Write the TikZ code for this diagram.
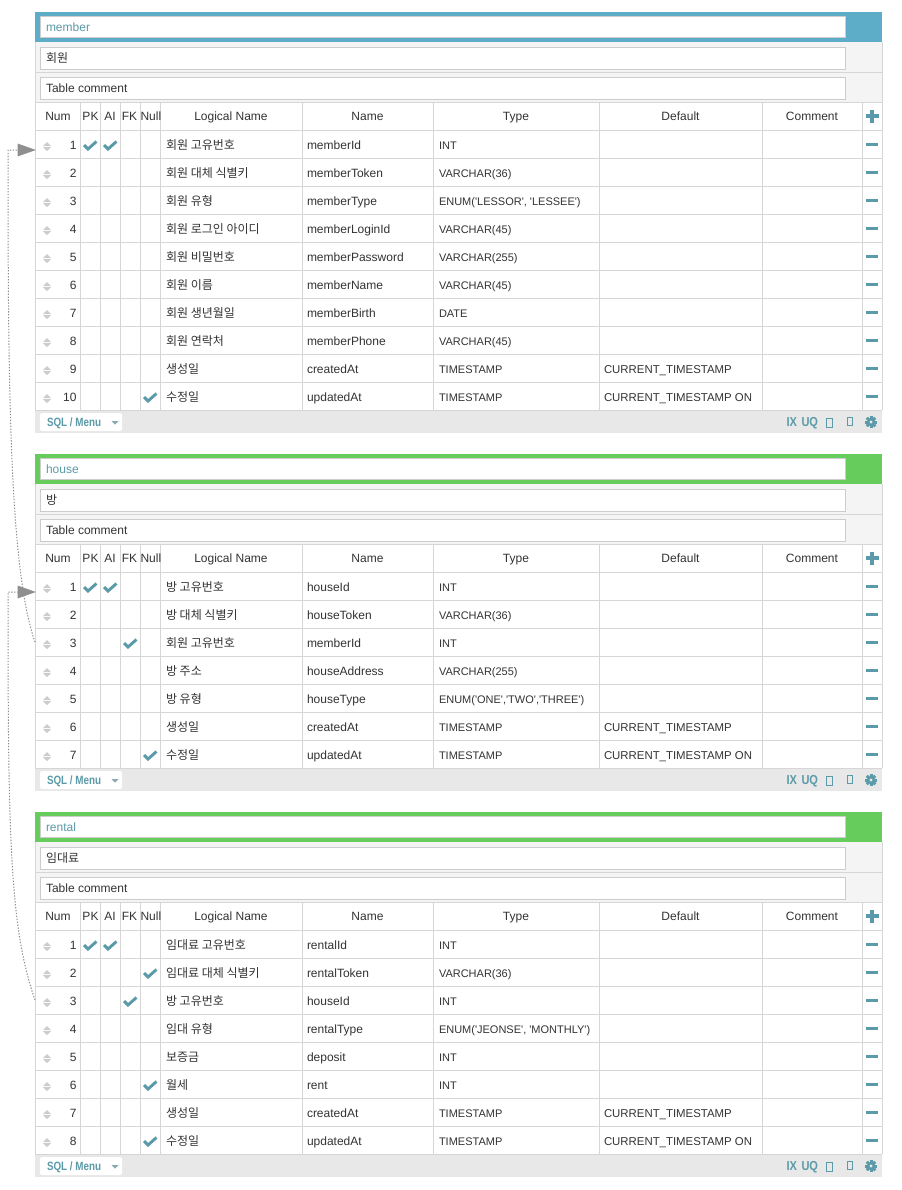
\documentclass[tikz,border=0pt]{standalone}
\usepackage{fontspec}
\setmainfont{Liberation Sans}
\newfontfamily\kr{Noto Sans CJK KR}
\usetikzlibrary{arrows.meta,calc}
\definecolor{txtc}{HTML}{333333}
\definecolor{icoTeal}{HTML}{5B9AA9}
\definecolor{hdrBlue}{HTML}{5DACC8}
\definecolor{hdrGreen}{HTML}{66CC5C}
\definecolor{gridc}{HTML}{D6D6D6}
\definecolor{panelc}{HTML}{F4F4F4}
\definecolor{footc}{HTML}{E8E8E8}
\definecolor{inbord}{HTML}{CCCCCC}
\definecolor{sortc}{HTML}{CCCCCC}
\definecolor{connc}{HTML}{8C8C8C}
\definecolor{arrc}{HTML}{8F8F8F}
\definecolor{ddc}{HTML}{8DA9B0}
\tikzset{
  every node/.style={inner sep=0pt, outer sep=0pt, text=txtc},
  t12/.style={font=\fontsize{9}{11}\selectfont},
  t11/.style={font=\fontsize{8.25}{10}\selectfont},
  tdef/.style={font=\fontsize{8.55}{10}\selectfont},
  k12/.style={font=\kr\fontsize{9}{11}\selectfont},
  bsm/.style={font=\bfseries\fontsize{9}{11}\selectfont, text=icoTeal},
  bico/.style={font=\bfseries\fontsize{9.75}{11}\selectfont, text=icoTeal},
  gridline/.style={draw=gridc, line width=0.75pt},
  inbox/.style={draw=inbord, fill=white, line width=0.75pt},
  chkmark/.style={draw=icoTeal, line width=2.2pt, line join=miter},
  minusico/.style={draw=icoTeal, line width=2.4pt},
  plusico/.style={draw=icoTeal, line width=2.7pt},
  conn/.style={draw=connc, line width=0.75pt, dash pattern=on 1pt off 1.2pt},
  arrowtri/.style={fill=arrc, draw=arrc, line width=0.4pt, line join=miter},
}
\newcommand\chk[1]{\draw[chkmark] ({#1-6},\rt+15) -- ({#1-2},\rt+19) -- ({#1+6.5},\rt+11.5);}
\newcommand\TblTop[6]{%
  \def\curid{#1}\def\curtop{#2}%
  \pgfmathsetmacro\yf{#2+118+28*#6}%
  \pgfmathsetmacro\gy{\yf+12}%
  \fill[#3] (35,#2) rectangle (882,#2+30);
  \fill[panelc] (35,#2+30) rectangle (882,#2+90);
  \fill[footc] (35,\yf) rectangle (882,\yf+23);
  \draw[gridline] (35,#2+60) -- (882,#2+60);
  \draw[gridline] (35,#2+90) -- (882,#2+90);
  \foreach \i in {0,...,#6} {\draw[gridline] (35,{#2+118+28*\i}) -- (882,{#2+118+28*\i});}
  \foreach \x in {80,100,120,140,160,302,433,599,762,862} {\draw[gridline] (\x,#2+90) -- (\x,\yf);}
  \draw[gridline] (35,#2+30) -- (35,\yf);
  \draw[gridline] (882,#2+30) -- (882,\yf);
  \draw[inbox] (40.5,#2+4.5) rectangle (845.5,#2+25.5);
  \node[t12, text=icoTeal, anchor=base west] (#1-title) at (46,#2+19) {#4};
  \draw[inbox] (40.5,#2+35.5) rectangle (845.5,#2+57.5);
  \node[k12, anchor=base west] (#1-logical) at (46,#2+50.5) {#5};
  \draw[inbox] (40.5,#2+65.5) rectangle (845.5,#2+87.5);
  \node[t12, anchor=base west] (#1-comment) at (46,#2+80.5) {Table comment};
  \node[t12, anchor=base] (#1-hNum) at (58,#2+108.5) {Num};
  \node[t12, anchor=base] (#1-hPK) at (90.5,#2+108.5) {PK};
  \node[t12, anchor=base] (#1-hAI) at (110,#2+108.5) {AI};
  \node[t12, anchor=base] (#1-hFK) at (129.5,#2+108.5) {FK};
  \node[t12, anchor=base west] (#1-hNull) at (140.5,#2+108.5) {Null};
  \node[t12, anchor=base] (#1-hLog) at (231,#2+108.5) {Logical Name};
  \node[t12, anchor=base] (#1-hName) at (367.5,#2+108.5) {Name};
  \node[t12, anchor=base] (#1-hType) at (516,#2+108.5) {Type};
  \node[t12, anchor=base] (#1-hDef) at (680.5,#2+108.5) {Default};
  \node[t12, anchor=base] (#1-hCom) at (812,#2+108.5) {Comment};
  \draw[plusico] (865.5,#2+104) -- (878.5,#2+104) (872,#2+97.5) -- (872,#2+110.5);
  % footer
  \fill[white, rounded corners=1.5pt] (40,\yf+3) rectangle (122,\yf+21);
  \node[bsm, anchor=base west] (#1-sql) at (47,\yf+16.5) {\scalebox{0.82}[1]{SQL / Menu}};
  \fill[ddc] (111.5,\yf+11) -- (118.5,\yf+11) -- (115,\yf+14.5) -- cycle;
  \node[bico, anchor=base west] (#1-ix) at (786.5,\yf+16.7) {\scalebox{0.85}[1]{IX}};
  \node[bico, anchor=base west] (#1-uq) at (801.5,\yf+16.7) {\scalebox{0.85}[1]{UQ}};
  \draw[icoTeal, line width=0.9pt] (826.5,\yf+8.5) rectangle (832.5,\yf+17.5);
  \draw[icoTeal, line width=0.9pt] (847.5,\yf+7.5) rectangle (852.5,\yf+15.5);
  \foreach \a in {0,45,...,315} {\fill[icoTeal, rotate around={\a:(871,\gy)}] (869.5,\gy-6) rectangle (872.5,\gy-3);}
  \fill[icoTeal] (871,\gy) circle (4.1);
  \fill[footc] (871,\gy) circle (1.6);
}
\newcommand\Row[6]{%
  \pgfmathsetmacro\rt{\curtop+118+28*(#1-1)}%
  \pgfmathsetmacro\rb{\rt+19.5}%
  \fill[sortc] (43,\rt+16) -- (51,\rt+16) -- (47,\rt+12) -- cycle;
  \fill[sortc] (43,\rt+17) -- (51,\rt+17) -- (47,\rt+21) -- cycle;
  \node[t12, anchor=base east] (\curid-n#1) at (76.5,\rb) {#1};
  #2
  \node[k12, anchor=base west] (\curid-l#1) at (166,\rb) {#3};
  \node[t12, anchor=base west] (\curid-m#1) at (307,\rb) {#4};
  \node[t11, anchor=base west] (\curid-t#1) at (439,\rb) {#5};
  \begin{scope}
    \clip (599,\rt) rectangle (757,\rt+28);
    \node[tdef, anchor=base west] (\curid-d#1) at (604,\rb) {#6};
  \end{scope}
  \draw[minusico] (866,\rt+14.5) -- (878,\rt+14.5);
  \coordinate (\curid-s#1) at (35,\rt+14);
  \coordinate (\curid-a#1) at (35,\rt+20);
}
\newcommand\CTS{CURRENT\_TIMESTAMP}
\newcommand\CTSON{CURRENT\_TIMESTAMP ON}
\newcommand\qq{\textquotesingle}
\newcommand\RelLink[2]{% #1 source coordinate, #2 target coordinate
  \draw[conn] (#1) .. controls ($(#1)+(-25,-72)$) and ($(#2)+(-27,250)$) .. ($(#2)+(-27,0)$) -- ($(#2)+(-17,0)$);
  \filldraw[arrowtri] ($(#2)+(-17,-6)$) -- (#2) -- ($(#2)+(-17,6)$) -- cycle;
}
\begin{document}
\begin{tikzpicture}[x=0.75pt, y=-0.75pt]
\useasboundingbox (0,0) rectangle (902,1190);
\fill[white] (0,0) rectangle (902,1190);

\TblTop{member}{12}{hdrBlue}{member}{회원}{10}
\Row{1}{\chk{90}\chk{110}}{회원 고유번호}{memberId}{INT}{}
\Row{2}{}{회원 대체 식별키}{memberToken}{VARCHAR(36)}{}
\Row{3}{}{회원 유형}{memberType}{ENUM(\qq LESSOR\qq, \qq LESSEE\qq)}{}
\Row{4}{}{회원 로그인 아이디}{memberLoginId}{VARCHAR(45)}{}
\Row{5}{}{회원 비밀번호}{memberPassword}{VARCHAR(255)}{}
\Row{6}{}{회원 이름}{memberName}{VARCHAR(45)}{}
\Row{7}{}{회원 생년월일}{memberBirth}{DATE}{}
\Row{8}{}{회원 연락처}{memberPhone}{VARCHAR(45)}{}
\Row{9}{}{생성일}{createdAt}{TIMESTAMP}{\CTS}
\Row{10}{\chk{150}}{수정일}{updatedAt}{TIMESTAMP}{\CTSON}

\TblTop{house}{454}{hdrGreen}{house}{방}{7}
\Row{1}{\chk{90}\chk{110}}{방 고유번호}{houseId}{INT}{}
\Row{2}{}{방 대체 식별키}{houseToken}{VARCHAR(36)}{}
\Row{3}{\chk{130}}{회원 고유번호}{memberId}{INT}{}
\Row{4}{}{방 주소}{houseAddress}{VARCHAR(255)}{}
\Row{5}{}{방 유형}{houseType}{ENUM(\qq ONE\qq,\qq TWO\qq,\qq THREE\qq)}{}
\Row{6}{}{생성일}{createdAt}{TIMESTAMP}{\CTS}
\Row{7}{\chk{150}}{수정일}{updatedAt}{TIMESTAMP}{\CTSON}

\TblTop{rental}{812}{hdrGreen}{rental}{임대료}{8}
\Row{1}{\chk{90}\chk{110}}{임대료 고유번호}{rentalId}{INT}{}
\Row{2}{\chk{150}}{임대료 대체 식별키}{rentalToken}{VARCHAR(36)}{}
\Row{3}{\chk{130}}{방 고유번호}{houseId}{INT}{}
\Row{4}{}{임대 유형}{rentalType}{ENUM(\qq JEONSE\qq, \qq MONTHLY\qq)}{}
\Row{5}{}{보증금}{deposit}{INT}{}
\Row{6}{\chk{150}}{월세}{rent}{INT}{}
\Row{7}{}{생성일}{createdAt}{TIMESTAMP}{\CTS}
\Row{8}{\chk{150}}{수정일}{updatedAt}{TIMESTAMP}{\CTSON}

% relationship connectors
\RelLink{house-s3}{member-a1}
\RelLink{rental-s3}{house-a1}
\end{tikzpicture}
\end{document}
